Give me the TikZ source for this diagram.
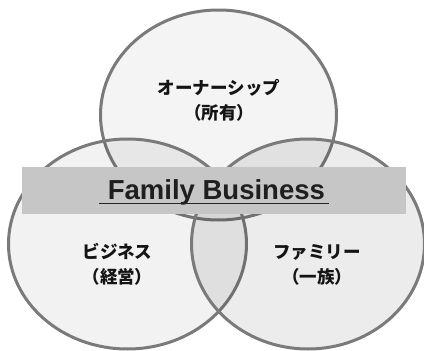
\documentclass[tikz,border=0pt]{standalone}
\usepackage{fontspec}
\setmainfont{Liberation Sans}
\newfontfamily\jp{Noto Sans CJK JP}
\definecolor{ringline}{HTML}{7A7A7A}
\definecolor{bandfill}{HTML}{C6C6C6}
\begin{document}
\begin{tikzpicture}[x=1pt,y=-1pt,
  ring/.style={draw=ringline,line width=3pt,fill=black},
  jplabel/.style={font=\jp\bfseries\fontsize{17.5}{25}\selectfont,align=center,inner sep=0pt,text=black!92}]
\useasboundingbox (0,0) rectangle (424,351);
\fill[white] (0,0) rectangle (424,351);
\path[ring,fill opacity=0.045] (218.5,115) ellipse [x radius=118pt, y radius=105pt];
\path[ring,fill opacity=0.05] (127.5,244) ellipse [x radius=119pt, y radius=105pt];
\path[ring,fill opacity=0.075] (308,244) ellipse [x radius=116.5pt, y radius=105pt];
\node[fill=bandfill,minimum width=384pt,minimum height=47pt,inner sep=0pt] (band) at (214,190.5) {};
\node[font=\bfseries\fontsize{27.5}{30}\selectfont,inner sep=0pt,anchor=base,text=black!88] (fb) at (216.4,199.3) {Family Business};
\draw[line width=1.5pt,black!85] ([xshift=-8.7pt,yshift=-4pt]fb.base west) coordinate (ul1) -- ([xshift=4pt,yshift=-4pt]fb.base east) coordinate (ul2);
\node[jplabel] (own) at (219,100) {オーナーシップ\\（所有）};
\node[jplabel] (biz) at (117.5,264.5) {ビジネス\\（経営）};
\node[jplabel] (fam) at (317,264.5) {ファミリー\\（一族）};
\end{tikzpicture}
\end{document}
